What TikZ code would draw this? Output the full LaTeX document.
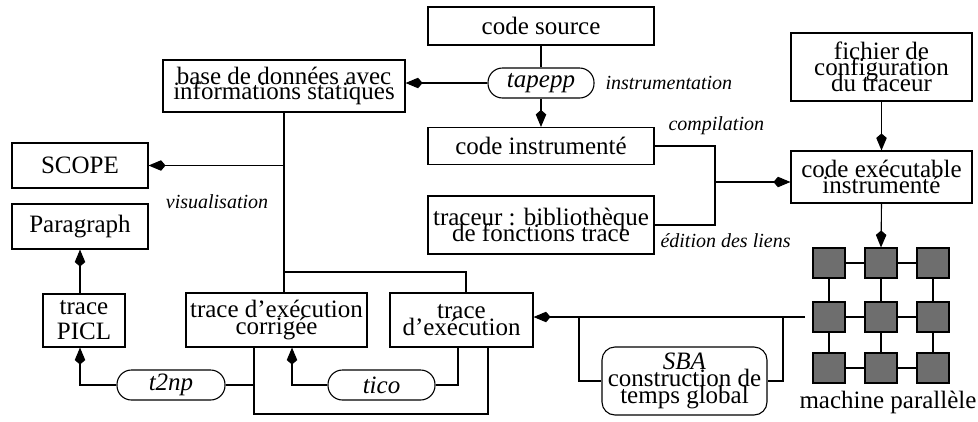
\documentclass[tikz,border=0pt]{standalone}
\usepackage{fontspec}
\setmainfont{Liberation Serif}
\usetikzlibrary{arrows.meta}

\begin{document}
\begin{tikzpicture}[x=1pt,y=-1pt,
  line width=1.1pt,
  arr/.style={-{Kite[length=17pt,width=10.5pt,inset=4.5pt]}},
  txt/.style={font={\fontsize{25}{#1}\selectfont\lineskiplimit=-40pt}},
  txt/.default=16,
  box/.style={draw, inner sep=0pt, align=center, txt=#1},
  box/.default=16,
  pill/.style={draw, inner sep=0pt, rounded corners=14.5pt,
    minimum height=30pt, font={\fontsize{25}{15}\selectfont\itshape}},
  lbl/.style={inner sep=0pt, font={\fontsize{20}{20}\selectfont\itshape}},
  cell/.style={draw, fill=black!57, inner sep=0pt,
    minimum width=32pt, minimum height=30pt},
]
\useasboundingbox (0,0) rectangle (978,421);

% --- instrumentation chain ---
\node[box, minimum width=226pt, minimum height=38pt] (src) at (541,26) {code source};
\node[pill, minimum width=106pt] (tapepp) at (541,83) {tapepp};
\node[box, minimum width=226pt, minimum height=37pt] (ci) at (541,146) {code instrumenté};
\node[box=16.5, minimum width=226pt, minimum height=58pt] (tr) at (541,225) {traceur : bibliothèque\\de fonctions trace};
\node[box=15, minimum width=242pt, minimum height=52pt] (base) at (284,86) {base de données avec\\informations statiques};

\node[lbl, anchor=west] (linstr) at (605,83) {instrumentation};
\node[lbl, anchor=west] (lcomp) at (668,126) {compilation};
\node[lbl, anchor=west] (ledit) at (660,241) {édition des liens};

% --- executable ---
\node[box=16, minimum width=181pt, minimum height=68pt] (fich) at (881.5,67) {fichier de\\configuration\\du traceur};
\node[box=16, minimum width=181pt, minimum height=52pt] (exe) at (881.5,177) {code exécutable\\instrumenté};

% --- parallel machine ---
\foreach \r/\yy in {1/263,2/317,3/368}{
  \foreach \c/\xx in {1/829,2/881,3/933}{
    \node[cell] (m\r\c) at (\xx,\yy) {};
  }
}
\foreach \r in {1,2,3}{
  \draw (m\r1.east) -- (m\r2.west);
  \draw (m\r2.east) -- (m\r3.west);
}
\foreach \c in {1,2,3}{
  \draw (m1\c.south) -- (m2\c.north);
  \draw (m2\c.south) -- (m3\c.north);
}
\node[txt] (mach) at (888,402) {machine parallèle};

% --- traces and tools ---
\node[box=16.5, minimum width=143pt, minimum height=54pt] (te) at (461.5,320) {trace\\d'exécution};
\node[box=17, minimum width=181pt, minimum height=54pt] (corr) at (276.5,320) {trace d'exécution\\corrigée};
\node[box=25, minimum width=82pt, minimum height=53pt] (picl) at (84,320.5) {trace\\PICL};
\node[box, minimum width=136pt, minimum height=45pt] (scope) at (80,165.5) {SCOPE};
\node[box, minimum width=136pt, minimum height=45pt] (para) at (80,226.5) {Paragraph};
\node[lbl] (lvis) at (217,202) {visualisation};

\node[pill, minimum width=108pt] (t2np) at (171,385) {t2np};
\node[pill, minimum width=107pt] (tico) at (381.5,385) {tico};
\node[draw, inner sep=0pt, rounded corners=13pt, align=center,
  minimum width=165pt, minimum height=68pt,
  font={\fontsize{25}{17}\selectfont\lineskiplimit=-40pt}] (sba) at (684.5,381)
  {\textit{SBA}\\construction de\\temps global};

% --- connectors: instrumentation ---
\draw (src.south) -- (tapepp.north);
\draw[arr] (tapepp.south) -- (ci.north);
\draw[arr] (tapepp.west) -- (tapepp.west -| base.east);

\coordinate (cj) at (715,182);
\draw (ci.east) -| (cj);
\draw (tr.east) -| (cj);
\draw[arr] (cj) -- (cj -| exe.west);
\draw[arr] (fich.south) -- (exe.north);
\draw[arr] (exe.south) -- (m12.north);

% --- connectors: traces ---
\coordinate (gin) at (805,317);
\draw[arr] (gin) -- (gin -| te.east);
\coordinate (sbr) at (783,317);
\coordinate (sbl) at (579,317);
\draw (sbr) |- (sba.east);
\draw (sbl) |- (sba.west);

\coordinate (bj) at (284,272);
\coordinate (tex) at (466,0);
\draw (base.south) -- (bj) -- (bj |- corr.north);
\draw (bj) -| (tex |- te.north);
\draw[arr] (base.south |- scope.east) -- (scope.east);

\draw[arr] (para.south |- picl.north) -- (para.south);
\draw[arr] (t2np.west) -| (para.south |- picl.south);

\coordinate (lpl) at (254,414);
\coordinate (lpr) at (488,414);
\draw (lpl |- corr.south) -- (lpl) -- (lpr) -- (lpr |- te.south);
\draw (t2np.east) -- (t2np.east -| lpl);

\coordinate (tcx) at (458,0);
\coordinate (tcy) at (292,0);
\draw (tcx |- te.south) |- (tico.east);
\draw[arr] (tico.west) -| (tcy |- corr.south);
\end{tikzpicture}
\end{document}
